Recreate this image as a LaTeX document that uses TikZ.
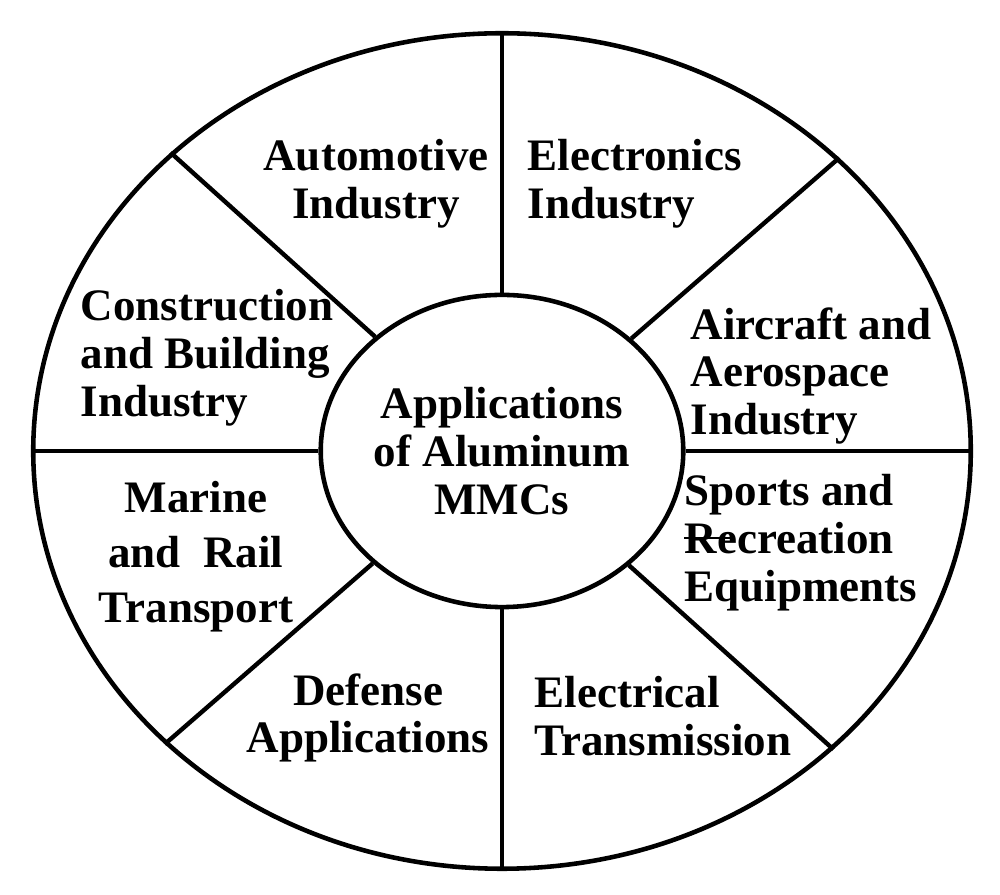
\documentclass[tikz,border=0pt]{standalone}
\usepackage{fontspec}
\setmainfont{Liberation Serif}
\usetikzlibrary{shapes.geometric}
\begin{document}
\begin{tikzpicture}[x=0.01cm,y=-0.01cm,
  ring/.style={draw, ellipse, inner sep=0pt, line width=1.3pt},
  spoke/.style={line width=1.25pt},
  lbl/.style={inner sep=0pt, font=\fontsize{12.8}{13.6}\selectfont\bfseries},
  lbll/.style={lbl, align=left, anchor=west},
  lblc/.style={lbl, align=center}]
\useasboundingbox (0,0) rectangle (1000,895);
\node[ring, minimum width=9.37cm, minimum height=8.35cm] (rim) at (502,451) {};
\node[ring, minimum width=3.49cm, minimum height=3.12cm, align=center,
      font=\fontsize{12.8}{13.6}\selectfont\bfseries] (hub) at (502,451)
  {Applications\\of Aluminum\\MMCs};
\foreach \a in {0,41.7,90,138.3,180,221.7,270,318.3}
  \draw[spoke] (hub.\a) -- (rim.\a);
\node[lblc] (auto) at (376,184) {Automotive\\Industry};
\node[lbll] (elec) at (527,184) {Electronics\\Industry};
\node[lbll] (cons) at (80,358) {Construction\\and Building\\Industry};
\node[lbll] (air) at (690,376) {Aircraft and\\Aerospace\\Industry};
\node[lbll] (sport) at (684,543) {Sports and\\Recreation\\Equipments};
\node[lblc, font=\fontsize{12.8}{15.6}\selectfont\bfseries] (marine) at (196,557) {Marine\\and~~Rail\\Transport};
\node[lblc] (def) at (368,718) {Defense\\Applications};
\node[lbll] (trans) at (534,716) {Electrical\\Transmission};
\coordinate (sa) at (684,538);
\coordinate (sb) at (733,538);
\draw[line width=0.7pt] (sa) -- (sb);
\end{tikzpicture}
\end{document}
